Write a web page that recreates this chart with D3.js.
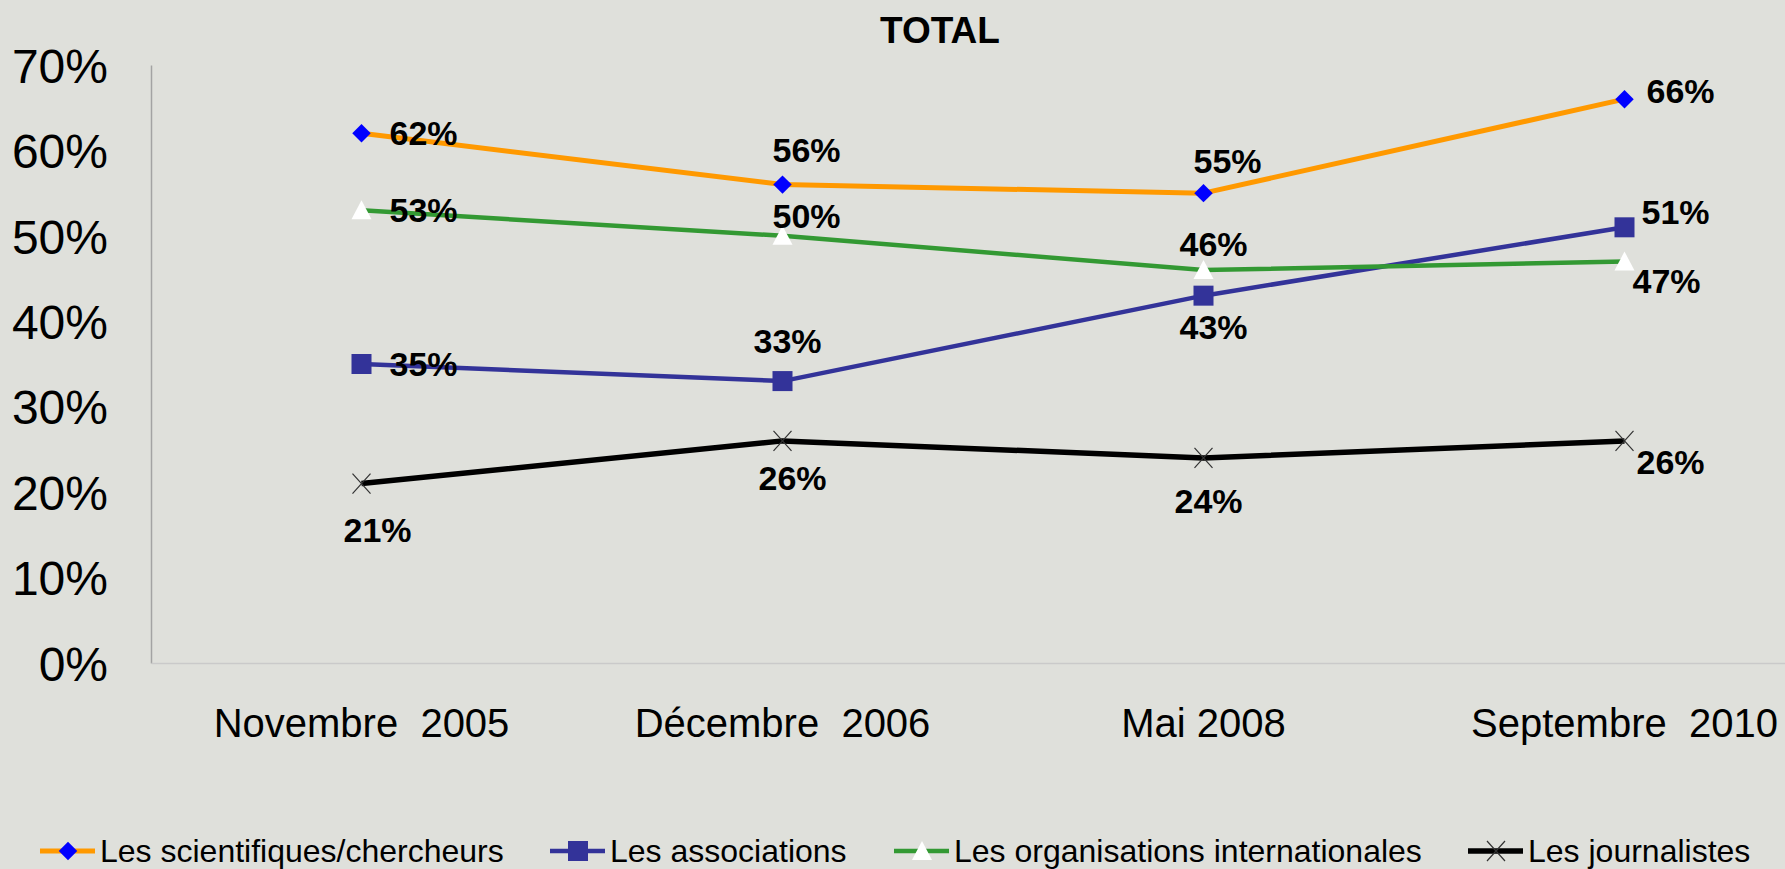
<!DOCTYPE html>
<meta charset="utf-8">
<style>
body{margin:0;background:#dfe0db;}
svg{display:block;background:#dfe0db;font-family:"Liberation Sans",Arial,sans-serif;}
.axis text{fill:#000;}
.val{font-weight:bold;font-size:34px;fill:#000;}
.legend text{font-size:32px;fill:#000;}
</style>
<body>
<script src="https://cdn.jsdelivr.net/npm/d3@7"></script>
<script>
var categories = ["Novembre  2005", "Décembre  2006", "Mai 2008", "Septembre  2010"];
var scientifiques = [62, 56, 55, 66];
var associations = [35, 33, 43, 51];
var organisations = [53, 50, 46, 47];
var journalistes = [21, 26, 24, 26];
var yTicks = [0, 10, 20, 30, 40, 50, 60, 70];

// where each value label sits relative to its point
var labelOffsets = {
  sci:  [[62, 0], [24, -35], [24, -32], [56, -8]],
  assoc:[[62, 0], [5, -40], [10, 31], [51, -15]],
  org:  [[62, 0], [24, -20], [10, -26], [42, 20]],
  jour: [[16, 46], [10, 37], [5, 43], [46, 21]]
};

var series = [
  {key:"sci", name:"Les scientifiques/chercheurs", values:scientifiques, color:"#ff9900", width:5, marker:"diamond", mfill:"#0000ff"},
  {key:"assoc", name:"Les associations", values:associations, color:"#333399", width:4.5, marker:"square", mfill:"#333399"},
  {key:"org", name:"Les organisations internationales", values:organisations, color:"#339933", width:4.5, marker:"triangle", mfill:"#ffffff"},
  {key:"jour", name:"Les journalistes", values:journalistes, color:"#000000", width:5.5, marker:"cross", mfill:"none"}
];

var W = 1785, H = 869;
var plotLeft = 151, plotTop = 65, plotBottom = 663;

var svg = d3.select("body").append("svg").attr("width", W).attr("height", H);

var x = d3.scaleBand().domain(categories).range([plotLeft, plotLeft + 4 * 421]).padding(0);
var y = d3.scaleLinear().domain([0, 70]).range([plotBottom, plotTop]);

svg.append("text")
  .attr("x", 940).attr("y", 43)
  .attr("text-anchor", "middle")
  .style("font-weight", "bold").style("font-size", "37px")
  .text("TOTAL");

// y axis
var yAxis = svg.append("g").attr("class", "axis")
  .attr("transform", "translate(" + plotLeft + ",0)")
  .call(d3.axisLeft(y).tickValues(yTicks).tickFormat(function(d){ return d + "%"; })
    .tickSize(0).tickSizeOuter(0).tickPadding(43));
yAxis.select(".domain").attr("stroke", "#a3a3a3").attr("stroke-width", 1.5);
yAxis.selectAll("text").style("font-size", "48px").attr("dy", "0.36em");

// x axis
var xAxis = svg.append("g").attr("class", "axis")
  .attr("transform", "translate(0," + plotBottom + ")")
  .call(d3.axisBottom(x).tickSize(0).tickSizeOuter(0).tickPadding(46));
xAxis.select(".domain").attr("stroke", "#cacaca").attr("stroke-width", 1.5);
xAxis.selectAll("text").style("font-size", "40px").style("white-space", "pre");

var line = d3.line()
  .x(function(d, i){ return x(categories[i]) + x.bandwidth() / 2; })
  .y(function(d){ return y(d); });

function drawMarker(g, type, fill, cx, cy) {
  if (type === "diamond") {
    g.append("path").attr("d", d3.symbol().type(d3.symbolSquare).size(170)())
      .attr("transform", "translate(" + cx + "," + cy + ") rotate(45)")
      .attr("fill", fill);
  } else if (type === "square") {
    g.append("rect").attr("x", cx - 10).attr("y", cy - 10).attr("width", 20).attr("height", 20)
      .attr("fill", fill);
  } else if (type === "triangle") {
    g.append("path").attr("d", "M" + cx + "," + (cy - 10) + "L" + (cx + 10) + "," + (cy + 9) + "L" + (cx - 10) + "," + (cy + 9) + "Z")
      .attr("fill", fill);
  } else {
    g.append("path").attr("d", "M" + (cx - 9) + "," + (cy - 10) + "L" + (cx + 9) + "," + (cy + 10) + "M" + (cx + 9) + "," + (cy - 10) + "L" + (cx - 9) + "," + (cy + 10))
      .attr("stroke", "#333").attr("stroke-width", 1.2).attr("fill", "none");
  }
}

series.forEach(function(s) {
  var g = svg.append("g");
  g.append("path").datum(s.values)
    .attr("d", line)
    .attr("fill", "none")
    .attr("stroke", s.color)
    .attr("stroke-width", s.width)
    .attr("stroke-linejoin", "round");
  s.values.forEach(function(v, i) {
    var cx = x(categories[i]) + x.bandwidth() / 2, cy = y(v);
    drawMarker(g, s.marker, s.mfill, cx, cy);
  });
});

// value labels on top
series.forEach(function(s) {
  svg.append("g").selectAll("text")
    .data(s.values)
    .enter().append("text")
    .attr("class", "val")
    .attr("text-anchor", "middle")
    .attr("x", function(d, i){ return x(categories[i]) + x.bandwidth() / 2 + labelOffsets[s.key][i][0]; })
    .attr("y", function(d, i){ return y(d) + labelOffsets[s.key][i][1] + 12; })
    .text(function(d){ return d + "%"; });
});

// legend
var legendX = [40, 550, 894, 1468];
var legend = svg.append("g").attr("class", "legend");
series.forEach(function(s, i) {
  var lx = legendX[i], ly = 851;
  legend.append("line")
    .attr("x1", lx).attr("x2", lx + 55).attr("y1", ly).attr("y2", ly)
    .attr("stroke", s.color).attr("stroke-width", s.width);
  drawMarker(legend, s.marker, s.mfill, lx + 28, ly);
  legend.append("text").attr("x", lx + 60).attr("y", ly + 11).text(s.name);
});
</script>
</body>
